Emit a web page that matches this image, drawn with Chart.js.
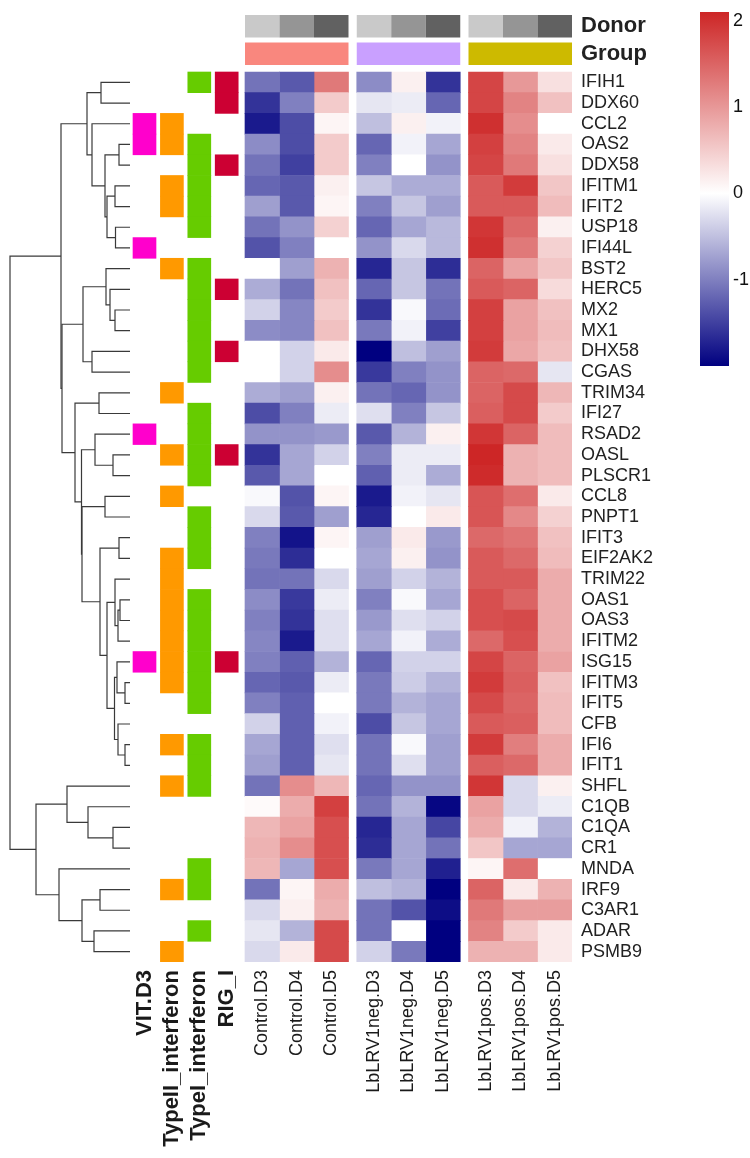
<!DOCTYPE html>
<html><head><meta charset="utf-8">
<script src="https://cdn.jsdelivr.net/npm/chart.js@4.4.1/dist/chart.umd.min.js"></script>
<style>
html,body{margin:0;padding:0;background:#fff;}
#wrap{position:relative;width:750px;height:1158px;overflow:hidden;}
#main{position:absolute;left:0;top:0;}
#cbar{position:absolute;left:650px;top:0;}
</style></head><body>
<div id="wrap">
<canvas id="main" width="750" height="1158"></canvas>
<canvas id="cbar" width="100" height="400"></canvas>
</div>
<script>
// ---------------- DATA ----------------
const genes = ['IFIH1','DDX60','CCL2','OAS2','DDX58','IFITM1','IFIT2','USP18','IFI44L','BST2','HERC5','MX2','MX1','DHX58','CGAS','TRIM34','IFI27','RSAD2','OASL','PLSCR1','CCL8','PNPT1','IFIT3','EIF2AK2','TRIM22','OAS1','OAS3','IFITM2','ISG15','IFITM3','IFIT5','CFB','IFI6','IFIT1','SHFL','C1QB','C1QA','CR1','MNDA','IRF9','C3AR1','ADAR','PSMB9'];
const samples = ['Control.D3','Control.D4','Control.D5','LbLRV1neg.D3','LbLRV1neg.D4','LbLRV1neg.D5','LbLRV1pos.D3','LbLRV1pos.D4','LbLRV1pos.D5'];
const sampleDonor = ['D3','D4','D5','D3','D4','D5','D3','D4','D5'];
const groupNames = ['Control','LbLRV1neg','LbLRV1pos'];
const controlD3 = [-1.1,-1.6,-1.8,-0.9,-1.1,-1.2,-0.75,-1.1,-1.35,0.0,-0.65,-0.35,-0.9,0.0,0.0,-0.65,-1.4,-0.85,-1.6,-1.3,-0.05,-0.3,-1.0,-1.05,-1.1,-0.9,-1.0,-0.95,-1.0,-1.2,-1.0,-0.35,-0.7,-0.75,-1.1,0.05,0.7,0.75,0.7,-1.1,-0.3,-0.2,-0.3];
const controlD4 = [-1.3,-1.0,-1.4,-1.4,-1.5,-1.3,-1.3,-0.85,-1.0,-0.75,-1.1,-0.95,-0.95,-0.35,-0.35,-0.75,-1.0,-0.85,-0.7,-0.7,-1.35,-1.3,-1.85,-1.65,-1.1,-1.55,-1.6,-1.8,-1.25,-1.3,-1.25,-1.25,-1.25,-1.25,1.1,0.8,0.9,1.1,-0.7,0.1,0.15,-0.6,0.2];
const controlD5 = [1.3,0.5,0.1,0.5,0.5,0.15,0.1,0.45,0.0,0.75,0.6,0.5,0.6,0.2,1.1,0.15,-0.15,-0.8,-0.35,0.0,0.1,-0.75,0.1,0.0,-0.3,-0.15,-0.25,-0.25,-0.6,-0.15,0.0,-0.1,-0.25,-0.2,0.7,1.85,1.7,1.7,1.7,0.8,0.75,1.75,1.75];
const negD3 = [-0.9,-0.2,-0.5,-1.2,-1.0,-0.45,-1.0,-1.2,-0.85,-1.7,-1.2,-1.6,-1.05,-2.0,-1.55,-1.1,-0.25,-1.3,-1.0,-1.25,-1.8,-1.7,-0.75,-0.7,-0.75,-1.0,-0.8,-0.7,-1.2,-1.05,-1.05,-1.4,-1.1,-1.1,-1.2,-1.1,-1.7,-1.65,-1.05,-0.5,-1.1,-1.1,-0.35];
const negD4 = [0.15,-0.15,0.15,-0.1,0.0,-0.65,-0.45,-0.7,-0.3,-0.45,-0.45,-0.05,-0.1,-0.5,-1.0,-1.2,-1.0,-0.6,-0.15,-0.15,-0.1,0.0,0.2,0.15,-0.35,-0.05,-0.25,-0.1,-0.35,-0.4,-0.6,-0.45,-0.05,-0.25,-0.85,-0.6,-0.7,-0.7,-0.7,-0.6,-1.35,0.0,-1.05];
const negD5 = [-1.6,-1.2,-0.1,-0.7,-0.85,-0.65,-0.75,-0.55,-0.55,-1.65,-1.1,-1.15,-1.5,-0.75,-0.85,-0.85,-0.45,0.15,-0.15,-0.65,-0.2,0.2,-0.8,-0.85,-0.6,-0.7,-0.35,-0.65,-0.35,-0.6,-0.7,-0.7,-0.75,-0.75,-0.85,-1.95,-1.45,-1.1,-1.75,-2.0,-1.9,-2.0,-2.0];
const posD3 = [1.8,1.8,2.0,1.85,1.8,1.6,1.6,1.95,2.0,1.5,1.6,1.85,1.85,1.9,1.5,1.5,1.55,1.95,2.1,2.05,1.65,1.65,1.45,1.6,1.6,1.7,1.7,1.45,1.8,1.9,1.75,1.6,1.9,1.55,1.95,0.9,0.8,0.55,0.1,1.5,1.3,1.2,0.75];
const posD4 = [1.0,1.2,1.1,1.2,1.3,1.9,1.6,1.45,1.3,0.9,1.5,0.9,0.9,0.85,1.45,1.75,1.75,1.5,0.75,0.75,1.4,1.15,1.35,1.45,1.6,1.5,1.75,1.7,1.5,1.55,1.5,1.55,1.25,1.45,-0.3,-0.3,-0.1,-0.7,1.4,0.2,0.95,0.5,0.75];
const posD5 = [0.3,0.6,0.0,0.2,0.3,0.55,0.65,0.15,0.45,0.55,0.35,0.6,0.65,0.6,-0.2,0.7,0.5,0.65,0.65,0.65,0.2,0.45,0.6,0.65,0.8,0.8,0.8,0.8,0.9,0.6,0.65,0.65,0.8,0.8,0.15,-0.15,-0.6,-0.7,0.0,0.75,0.95,0.2,0.2];
const sampleValues = [controlD3, controlD4, controlD5, negD3, negD4, negD5, posD3, posD4, posD5];

const annotationNames = ['VIT.D3','TypeII_interferon','TypeI_interferon','RIG_I'];
const vitD3Genes = ['CCL2','OAS2','IFI44L','RSAD2','ISG15'];
const typeIIGenes = ['CCL2','OAS2','IFITM1','IFIT2','BST2','TRIM34','OASL','CCL8','EIF2AK2','TRIM22','OAS1','OAS3','IFITM2','ISG15','IFITM3','IFI6','SHFL','IRF9','PSMB9'];
const typeIGenes = ['IFIH1','OAS2','DDX58','IFITM1','IFIT2','USP18','BST2','HERC5','MX2','MX1','DHX58','CGAS','IFI27','RSAD2','OASL','PLSCR1','PNPT1','IFIT3','EIF2AK2','OAS1','OAS3','IFITM2','ISG15','IFITM3','IFIT5','IFI6','IFIT1','SHFL','MNDA','IRF9','ADAR'];
const rigIGenes = ['IFIH1','DDX60','DDX58','HERC5','DHX58','OASL','ISG15'];
const annotationGenes = [vitD3Genes, typeIIGenes, typeIGenes, rigIGenes];

// row dendrogram (hclust style: negative = leaf row, positive = earlier merge)
const mergeLeft   = [-1,-4,-6,-8,3,2,-3,1,-12,-11,-10,-14,11,-16,-19,-18,-21,-23,-26,19,-25,-30,-29,-33,-32,23,21,18,17,16,14,13,8,-37,-36,-35,-40,-42,37,-39,36,33];
const mergeRight  = [-2,-5,-7,-9,4,5,6,7,-13,9,10,-15,12,-17,-20,15,-22,-24,-27,-28,20,-31,22,-34,24,25,26,27,28,29,30,31,32,-38,34,35,-41,-43,38,39,40,41];
const mergeHeight = [2.9,1.1,1.5,1.45,2.3,2.5,3.8,4.3,1.5,2.0,2.4,3.8,4.7,3.1,1.7,3.5,2.5,1.1,1.0,1.2,1.5,0.5,1.3,0.5,1.2,1.55,2.3,3.0,4.8,4.85,5.5,6.8,6.9,1.7,4.2,6.3,3.0,3.6,4.8,7.1,9.4,12.0];

const legendTicks = [-1, 0, 1, 2];
const legendMin = -2.0, legendMax = 2.1;

// ---------------- STYLE / LAYOUT ----------------
const LOW = [0,0,128], MID = [255,255,255], HIGH = [205,38,38];
const donorColors = {D3:'#C9C9C9', D4:'#959595', D5:'#616161'};
const groupColors = ['#F9877E','#C9A0FF','#CDBA00'];
const annotationColors = ['#FF00CC','#FF9900','#66CC00','#CC0033'];
const FONT = "'Liberation Sans', Arial, Helvetica, sans-serif";
Chart.defaults.font.family = FONT;

const CW = 750, CH = 1158;
const AREA_RIGHT = 572, AREA_BOTTOM = 962;
const HEAT_TOP = 72, HEAT_LEFT = 245, COL_PX = 34.5, GAP_PX = 8.25;
const ROW_PX = (AREA_BOTTOM - HEAT_TOP) / genes.length;
const ANN_CENTER0 = 144.5, ANN_STEP = 27.4, ANN_W = 23;
const DONOR_CY = 26.2, TOP_STEP = 27.5, TOP_H = 22.5;
const LEAF_PX = 130, DEND_UNIT_PX = 10;
const KEY_LEFT = 700, KEY_W = 29, KEY_TOP = 12, KEY_BOTTOM = 366;

function mix(c, t){ return 'rgb(' + [0,1,2].map(i => Math.round(MID[i] + (c[i]-MID[i])*t)).join(',') + ')'; }
function heatColor(v){
  if (v < 0) return mix(LOW, Math.min(1, v/legendMin));
  return mix(HIGH, Math.min(1, v/legendMax));
}

const xMin = -HEAT_LEFT / COL_PX, xMax = (AREA_RIGHT - HEAT_LEFT) / COL_PX;
const colStart = j => j + Math.floor(j/3) * GAP_PX / COL_PX;
const annCenter = k => (ANN_CENTER0 + k*ANN_STEP - HEAT_LEFT) / COL_PX;
const annHalf = ANN_W / 2 / COL_PX;
const yMin = -0.5 - HEAT_TOP / ROW_PX, yMax = genes.length - 0.5;
const donorRowVal = yMin + DONOR_CY / ROW_PX;
const groupRowVal = yMin + (DONOR_CY + TOP_STEP) / ROW_PX;
const xdMax = LEAF_PX / DEND_UNIT_PX, xdMin = xdMax - AREA_RIGHT / DEND_UNIT_PX;

const cellStyle = {type:'bar', xAxisID:'x', yAxisID:'y', grouped:false, categoryPercentage:1, barPercentage:1, borderWidth:0};
const datasets = [];
sampleValues.forEach((vals, j) => {
  datasets.push(Object.assign({}, cellStyle, {
    data: vals.map((v, i) => ({y:i, x:[colStart(j), colStart(j)+1], v:v})),
    backgroundColor: ctx => heatColor(ctx.raw ? ctx.raw.v : 0)
  }));
});
annotationGenes.forEach((list, k) => {
  datasets.push(Object.assign({}, cellStyle, {
    data: list.map(g => ({y: genes.indexOf(g), x:[annCenter(k)-annHalf, annCenter(k)+annHalf]})),
    backgroundColor: annotationColors[k]
  }));
});
datasets.push(Object.assign({}, cellStyle, {
  barPercentage: TOP_H / ROW_PX,
  data: samples.map((s, j) => ({y:donorRowVal, x:[colStart(j), colStart(j)+1]})),
  backgroundColor: samples.map((s, j) => donorColors[sampleDonor[j]])
}));
datasets.push(Object.assign({}, cellStyle, {
  barPercentage: TOP_H / ROW_PX,
  data: groupNames.map((g, gi) => ({y:groupRowVal, x:[colStart(gi*3), colStart(gi*3+2)+1]})),
  backgroundColor: groupColors
}));
const nodeY = [], nodeH = [];
const child = c => c < 0 ? {y: -c-1, h: 0} : {y: nodeY[c-1], h: nodeH[c-1]};
mergeLeft.forEach((a, k) => {
  const A = child(a), B = child(mergeRight[k]), h = mergeHeight[k];
  nodeY[k] = (A.y + B.y) / 2; nodeH[k] = h;
  datasets.push({
    type:'scatter', showLine:true, xAxisID:'xd', yAxisID:'y',
    borderColor:'#3a3a3a', borderWidth:1.2, pointRadius:0, pointHoverRadius:0, tension:0, fill:false,
    data:[{x:A.h, y:A.y},{x:h, y:A.y},{x:h, y:B.y},{x:B.h, y:B.y}]
  });
});

const bottomLabels = annotationNames.concat(samples);
const rightLabels = ['Donor','Group'].concat(genes);

new Chart(document.getElementById('main'), {
  type:'bar',
  data:{datasets},
  options:{
    indexAxis:'y', responsive:false, maintainAspectRatio:false, animation:false, devicePixelRatio:1, events:[],
    layout:{padding:0, autoPadding:false},
    plugins:{legend:{display:false}, tooltip:{enabled:false}},
    scales:{
      x:{type:'linear', position:'bottom', min:xMin, max:xMax, offset:false,
        grid:{display:false, drawTicks:false, offset:false}, border:{display:false},
        afterBuildTicks: s => { s.ticks = annotationNames.map((n,k)=>({value:annCenter(k)})).concat(samples.map((n,j)=>({value:colStart(j)+0.5}))); },
        afterFit: s => { s.height = CH - AREA_BOTTOM; s.paddingLeft = 0; s.paddingRight = 0; },
        ticks:{autoSkip:false, minRotation:90, maxRotation:90, padding:8, color:'#1a1a1a',
          font: ctx => ctx.index < annotationNames.length ? {size:22, weight:'bold'} : {size:18},
          callback:(v, i) => bottomLabels[i]}
      },
      y:{type:'linear', position:'right', reverse:true, min:yMin, max:yMax, offset:false,
        grid:{display:false, drawTicks:false, offset:false}, border:{display:false},
        afterBuildTicks: s => { s.ticks = [donorRowVal, groupRowVal].concat(genes.map((g,i)=>i)).map(v=>({value:v})); },
        afterFit: s => { s.width = CW - AREA_RIGHT; s.paddingTop = 0; s.paddingBottom = 0; },
        ticks:{autoSkip:false, padding:9, color:'#222',
          font: ctx => ctx.index < 2 ? {size:22, weight:'bold'} : {size:18},
          callback:(v, i) => rightLabels[i]}
      },
      xd:{type:'linear', display:false, reverse:true, min:xdMin, max:xdMax, offset:false}
    }
  }
});

new Chart(document.getElementById('cbar'), {
  type:'bar',
  data:{labels:['key'], datasets:[{
    data:[[legendMin, legendMax]], categoryPercentage:1, barPercentage:1, borderWidth:0,
    backgroundColor: ctx => {
      const ch = ctx.chart; if (!ch.chartArea) return null;
      const ys = ch.scales.y;
      const g = ch.ctx.createLinearGradient(0, ys.getPixelForValue(legendMax), 0, ys.getPixelForValue(legendMin));
      g.addColorStop(0, mix(HIGH,1)); g.addColorStop(legendMax/(legendMax-legendMin), mix(HIGH,0)); g.addColorStop(1, mix(LOW,1));
      return g;
    }
  }]},
  options:{
    responsive:false, maintainAspectRatio:false, animation:false, devicePixelRatio:1, events:[],
    layout:{padding:{left:KEY_LEFT-650, top:KEY_TOP, bottom:400-KEY_BOTTOM, right:0}, autoPadding:false},
    plugins:{legend:{display:false}, tooltip:{enabled:false}},
    scales:{
      x:{type:'category', display:false},
      y:{type:'linear', position:'right', min:legendMin, max:legendMax, offset:false,
        grid:{display:false, drawTicks:false}, border:{display:false},
        afterBuildTicks: s => { s.ticks = legendTicks.map(v=>({value:v})); },
        afterFit: s => { s.width = 100 - (KEY_LEFT-650) - KEY_W; s.paddingTop = 0; s.paddingBottom = 0; },
        ticks:{padding:4, color:'#111', font:{size:18}}
      }
    }
  }
});
</script>
</body></html>
